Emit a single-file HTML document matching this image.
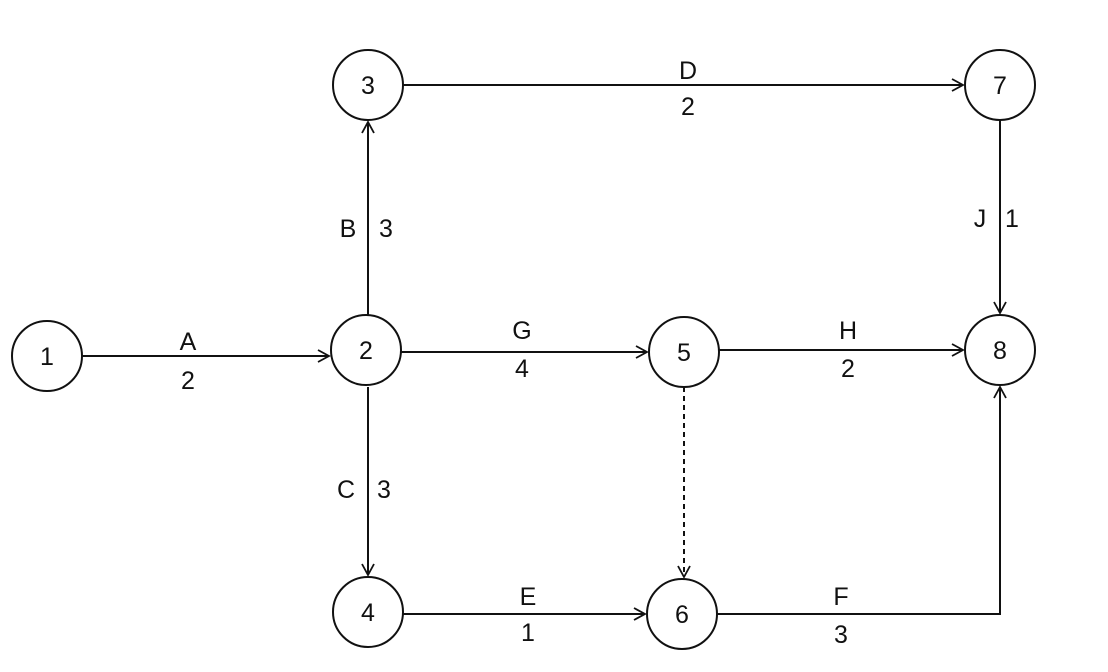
<!DOCTYPE html>
<html><head><style>body{margin:0;background:#fff}svg{display:block}</style></head><body>
<svg width="1108" height="672" viewBox="0 0 1108 672" font-family="Liberation Sans, Arial, sans-serif" font-size="25" fill="#111">
<defs><marker id="a" markerWidth="14" markerHeight="14" refX="12" refY="7" orient="auto" markerUnits="userSpaceOnUse"><path d="M1,1 L12,7 L1,13" fill="none" stroke="#111" stroke-width="1.8"/></marker></defs>
<g stroke="#111" stroke-width="2" fill="none">
<circle cx="47" cy="356" r="35"/><circle cx="366" cy="350" r="35"/><circle cx="368" cy="85" r="35"/><circle cx="1000" cy="85" r="35"/>
<circle cx="684" cy="352" r="35"/><circle cx="1000" cy="350" r="35"/><circle cx="368" cy="612" r="35"/><circle cx="682" cy="614" r="35"/>
<line x1="82" y1="356" x2="329" y2="356" marker-end="url(#a)"/>
<line x1="368" y1="315" x2="368" y2="122" marker-end="url(#a)"/>
<line x1="403" y1="85" x2="963" y2="85" marker-end="url(#a)"/>
<line x1="1000" y1="120" x2="1000" y2="313" marker-end="url(#a)"/>
<line x1="401" y1="352" x2="647" y2="352" marker-end="url(#a)"/>
<line x1="719" y1="350" x2="963" y2="350" marker-end="url(#a)"/>
<line x1="368" y1="387" x2="368" y2="575" marker-end="url(#a)"/>
<line x1="684" y1="387" x2="684" y2="577" stroke-dasharray="5,4" marker-end="url(#a)"/>
<line x1="403" y1="614" x2="645" y2="614" marker-end="url(#a)"/>
<polyline points="717,614 1000,614 1000,387" marker-end="url(#a)"/>
</g>
<g text-anchor="middle" stroke="none">
<text x="47" y="365">1</text><text x="366" y="359">2</text><text x="368" y="94">3</text><text x="1000" y="94">7</text>
<text x="684" y="361">5</text><text x="1000" y="359">8</text><text x="368" y="621">4</text><text x="682" y="623">6</text>
<text x="188" y="350">A</text><text x="188" y="389">2</text>
<text x="348" y="237">B</text><text x="386" y="237">3</text>
<text x="688" y="79">D</text><text x="688" y="115">2</text>
<text x="980" y="227">J</text><text x="1012" y="227">1</text>
<text x="522" y="339">G</text><text x="522" y="377">4</text>
<text x="848" y="339">H</text><text x="848" y="377">2</text>
<text x="346" y="498">C</text><text x="384" y="498">3</text>
<text x="528" y="605">E</text><text x="528" y="641">1</text>
<text x="841" y="605">F</text><text x="841" y="643">3</text>
</g>
</svg>
</body></html>
